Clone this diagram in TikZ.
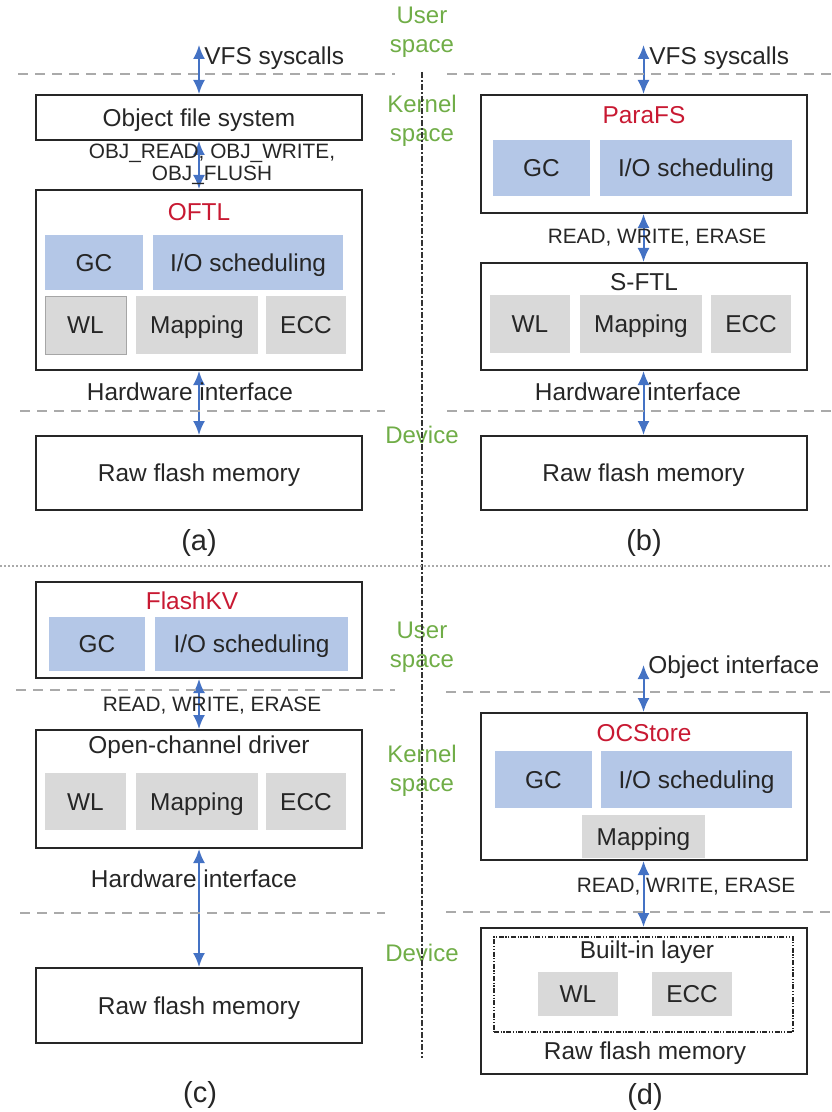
\documentclass[tikz,border=0pt]{standalone}
\usepackage{fontspec}
\setmainfont{Liberation Sans}
\usetikzlibrary{arrows.meta}

\definecolor{linkblue}{RGB}{68,114,196}
\definecolor{boxblue}{RGB}{180,199,231}
\definecolor{boxgray}{RGB}{217,217,217}
\definecolor{titlered}{RGB}{200,25,50}
\definecolor{spacegreen}{RGB}{112,173,71}
\definecolor{divgray}{RGB}{170,170,170}
\definecolor{ink}{RGB}{38,38,38}

\tikzset{
  txt/.style={font=\fontsize{12.2}{14.5}\selectfont, text=ink, inner sep=0pt},
  small/.style={font=\fontsize{10.4}{11}\selectfont, text=ink, inner sep=0pt, align=center},
  layer/.style={draw=ink, line width=1pt, minimum width=163pt, inner sep=0pt, txt,
                text height=8.7pt, text depth=0pt},
  funcbox/.style={fill=boxblue, inner sep=0pt, txt, text height=8.7pt, text depth=0pt},
  hwbox/.style={fill=boxgray, inner sep=0pt, txt, text height=8.7pt, text depth=0pt},
  title/.style={txt, text=titlered},
  region/.style={font=\fontsize{12}{14.5}\selectfont, text=spacegreen, align=center, inner sep=0pt},
  sep/.style={draw=divgray, line width=1pt, dash pattern=on 5pt off 3.5pt},
  link/.style={draw=linkblue, line width=1pt, {Latex[length=7pt,width=6pt]}-{Latex[length=7pt,width=6pt]}},
  caption/.style={font=\fontsize{14.5}{16}\selectfont, text=ink, inner sep=0pt},
}

\begin{document}
\begin{tikzpicture}[x=0.5pt, y=-0.5pt]
  \useasboundingbox (0,0) rectangle (831,1112);

  % (a) object file system over OFTL
  \node [layer, minimum height=22.5pt] at (199,117.5) (ofsA) {Object file system};
  \node [layer, minimum height=90pt]   at (199,280)   (oftlA) {};
  \node [title] at (199,212) (oftlT) {OFTL};
  \node [funcbox, minimum width=49pt, minimum height=27.5pt] at (94,262.5)  (gcA) {GC};
  \node [funcbox, minimum width=95pt, minimum height=27.5pt] at (248,262.5) (ioA) {I/O scheduling};
  \node [hwbox, draw=black!35, minimum width=40.5pt, minimum height=29pt] at (85.5,325) (wlA) {WL};
  \node [hwbox, minimum width=61pt, minimum height=29pt] at (197,325) (mapA) {Mapping};
  \node [hwbox, minimum width=40pt, minimum height=29pt] at (306,325) (eccA) {ECC};
  \node [layer, minimum height=37pt] at (199,473) (rawA) {Raw flash memory};

  \coordinate (vfsA) at (199,45);
  \draw [link] (vfsA) -- (ofsA);
  \draw [link] (ofsA) -- (oftlA);
  \draw [link] (oftlA) -- (rawA);

  \node [txt, anchor=west] at (204,58) (vfsLA) {VFS syscalls};
  \node [small] at (212,164) (objLA) {OBJ\_READ, OBJ\_WRITE,\\OBJ\_FLUSH};
  \node [txt] at (190,392) (hwLA) {Hardware interface};
  \node [caption] at (199,543) (capA) {(a)};

  % (b) ParaFS over S-FTL
  \node [layer, minimum height=59pt] at (643.5,154) (paraB) {};
  \node [title] at (644,115) (paraT) {ParaFS};
  \node [funcbox, minimum width=48.5pt, minimum height=28pt] at (541.5,168) (gcB) {GC};
  \node [funcbox, minimum width=96pt, minimum height=28pt]   at (696,168)   (ioB) {I/O scheduling};
  \node [layer, minimum height=53.5pt] at (643.5,316.5) (sftlB) {};
  \node [txt] at (644,282) (sftlT) {S-FTL};
  \node [hwbox, minimum width=40pt, minimum height=29pt] at (530,324) (wlB) {WL};
  \node [hwbox, minimum width=61pt, minimum height=29pt] at (641,324) (mapB) {Mapping};
  \node [hwbox, minimum width=40pt, minimum height=29pt] at (751,324) (eccB) {ECC};
  \node [layer, minimum height=37pt] at (643.5,473) (rawB) {Raw flash memory};

  \coordinate (vfsB) at (643.5,45);
  \draw [link] (vfsB) -- (paraB);
  \draw [link] (paraB) -- (sftlB);
  \draw [link] (sftlB) -- (rawB);

  \node [txt, anchor=west] at (649,58) (vfsLB) {VFS syscalls};
  \node [small] at (657,238) (rweB) {READ, WRITE, ERASE};
  \node [txt] at (638,392) (hwLB) {Hardware interface};
  \node [caption] at (644,543) (capB) {(b)};

  % (c) FlashKV over open-channel driver
  \node [layer, minimum height=48pt] at (199,630) (fkvC) {};
  \node [title] at (192,601) (fkvT) {FlashKV};
  \node [funcbox, minimum width=48pt, minimum height=27pt]   at (97,644)    (gcC) {GC};
  \node [funcbox, minimum width=96.5pt, minimum height=27pt] at (251.5,644) (ioC) {I/O scheduling};
  \node [layer, minimum height=59pt] at (199,789) (ocdC) {};
  \node [txt] at (199,747) (ocdT) {Open-channel driver};
  \node [hwbox, minimum width=40.5pt, minimum height=28.5pt] at (85.5,801.5) (wlC) {WL};
  \node [hwbox, minimum width=61pt, minimum height=28.5pt]   at (197,801.5)  (mapC) {Mapping};
  \node [hwbox, minimum width=40pt, minimum height=28.5pt]   at (306,801.5)  (eccC) {ECC};
  \node [layer, minimum height=37.5pt] at (199,1005.5) (rawC) {Raw flash memory};

  \draw [link] (fkvC) -- (ocdC);
  \draw [link] (ocdC) -- (rawC);

  \node [small] at (212,706) (rweC) {READ, WRITE, ERASE};
  \node [txt] at (194,879) (hwLC) {Hardware interface};
  \node [caption] at (200,1095) (capC) {(c)};

  % (d) OCStore over raw flash with built-in layer
  \node [layer, minimum height=73.5pt] at (643.5,786.5) (ocsD) {};
  \node [title] at (644,733) (ocsT) {OCStore};
  \node [funcbox, minimum width=48.5pt, minimum height=28.5pt] at (543.5,779.5) (gcD) {GC};
  \node [funcbox, minimum width=95.5pt, minimum height=28.5pt] at (696.5,779.5) (ioD) {I/O scheduling};
  \node [hwbox, minimum width=61.5pt, minimum height=21.5pt]   at (643.5,836.5) (mapD) {Mapping};
  \node [layer, minimum height=73pt] at (643.5,1001) (rawD) {};
  \node [draw=ink, line width=0.7pt, dash pattern=on 2.5pt off 0.8pt on 0.6pt off 0.8pt on 0.6pt off 0.8pt,
         minimum width=149.5pt, minimum height=47.5pt, inner sep=0pt] at (643.5,984.5) (builtD) {};
  \node [txt] at (647,952) (builtT) {Built-in layer};
  \node [hwbox, minimum width=40pt, minimum height=22pt] at (578,994) (wlD) {WL};
  \node [hwbox, minimum width=40pt, minimum height=22pt] at (692,994) (eccD) {ECC};
  \node [txt] at (645,1053) (rawT) {Raw flash memory};

  \coordinate (objD) at (643.5,665);
  \draw [link] (objD) -- (ocsD);
  \draw [link] (ocsD) -- (rawD);

  \node [txt, anchor=west] at (648,667) (objLD) {Object interface};
  \node [small] at (686,887) (rweD) {READ, WRITE, ERASE};
  \node [caption] at (645,1097) (capD) {(d)};

  % privilege levels
  \node [region] at (422,32)  (userT) {User\\space};
  \node [region] at (422,121) (kernT) {Kernel\\space};
  \node [region] at (422,435) (devT)  {Device};
  \node [region] at (422,647) (userB) {User\\space};
  \node [region] at (422,771) (kernB) {Kernel\\space};
  \node [region] at (422,953) (devB)  {Device};

  % boundaries
  \draw [sep] (18,74)  -- (395,74);
  \draw [sep] (447,74) -- (831,74);
  \draw [sep] (20,411) -- (385,411);
  \draw [sep] (447,411) -- (831,411);
  \draw [sep] (16,690) -- (395,690);
  \draw [sep] (20,913) -- (385,913);
  \draw [sep] (446,692) -- (831,692);
  \draw [sep] (446,912) -- (831,912);

  \draw [black!80, line width=0.7pt, dash pattern=on 3pt off 1.2pt on 0.6pt off 1.2pt] (422,72) -- (422,1058);
  \draw [divgray, line width=0.6pt, dash pattern=on 1.2pt off 0.8pt] (0,566) -- (831,566);
\end{tikzpicture}
\end{document}
